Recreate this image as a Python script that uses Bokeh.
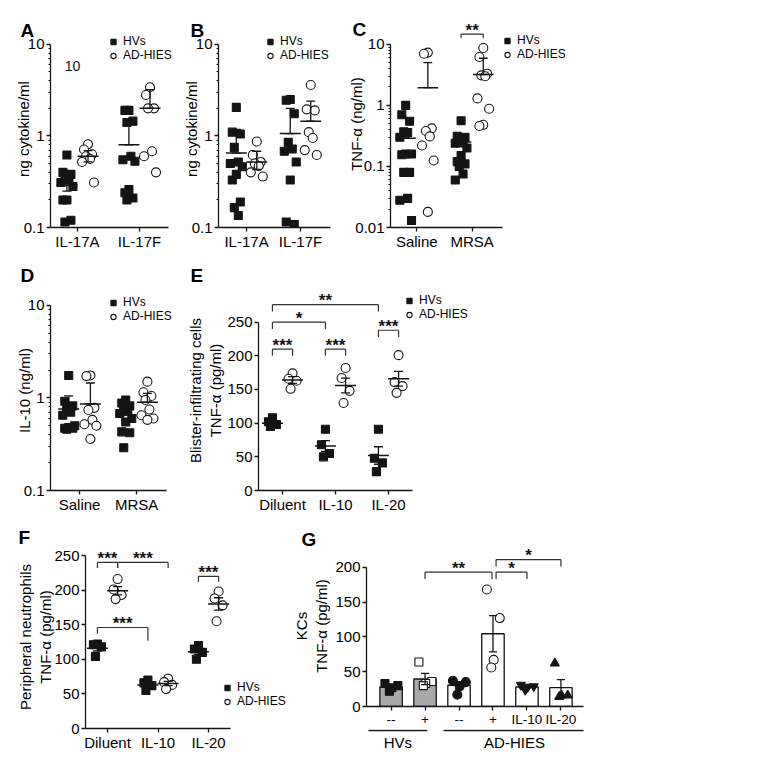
from bokeh.plotting import figure
from bokeh.layouts import column, row
from bokeh.models import Range1d, FixedTicker, Legend, LegendItem, Title
from bokeh.core.properties import value
from bokeh.embed import file_html
from bokeh.resources import INLINE

FONT = "Liberation Sans"
INK = "#141414"
SERIES = ["HVs", "AD-HIES"]

# ---------------- data ----------------
# A: IL-17 production, ng cytokine/ml
A_cats = ["IL-17A", "IL-17F"]
A_hv = [[0.62, 0.40, 0.38, 0.36, 0.33, 0.31, 0.28, 0.20, 0.20, 0.12, 0.115],
        [1.9, 1.9, 1.45, 1.4, 0.6, 0.55, 0.53, 0.26, 0.24, 0.21, 0.2]]
A_ad = [[0.81, 0.71, 0.63, 0.60, 0.56, 0.52, 0.31],
        [3.4, 2.8, 2.0, 2.0, 0.68, 0.6, 0.4]]
A_hv_mean = [0.29, 0.80]
A_hv_hi = [0.34, 1.5]
A_hv_lo = [0.25, 0.80]
A_ad_mean = [0.60, 2.0]
A_ad_hi = [0.69, 3.2]
A_ad_lo = [0.52, 2.0]
A_note = "10"

# B: IL-17 production, ng cytokine/ml
B_cats = ["IL-17A", "IL-17F"]
B_hv = [[2.05, 1.1, 1.05, 0.75, 0.52, 0.5, 0.46, 0.38, 0.33, 0.19, 0.165, 0.135],
        [2.5, 2.45, 1.75, 0.85, 0.72, 0.68, 0.52, 0.33, 0.115, 0.108]]
B_ad = [[0.87, 0.62, 0.52, 0.5, 0.47, 0.4, 0.36],
        [3.6, 1.95, 1.9, 1.1, 0.95, 0.7, 0.62]]
B_hv_mean = [0.65, 1.06]
B_hv_hi = [1.18, 2.0]
B_hv_lo = [0.65, 1.06]
B_ad_mean = [0.52, 1.45]
B_ad_hi = [0.68, 2.4]
B_ad_lo = [0.43, 1.45]

# C: TNF-alpha, ng/ml
C_cats = ["Saline", "MRSA"]
C_hv = [[1.0, 0.7, 0.55, 0.37, 0.36, 0.3, 0.16, 0.16, 0.155, 0.08, 0.08, 0.03, 0.028, 0.013],
        [0.56, 0.31, 0.3, 0.28, 0.26, 0.24, 0.2, 0.15, 0.12, 0.11, 0.1, 0.075, 0.06]]
C_ad = [[7.3, 7.0, 0.42, 0.38, 0.31, 0.22, 0.125, 0.018],
        [8.7, 6.2, 3.3, 3.1, 3.0, 1.3, 0.88, 0.48, 0.46]]
C_hv_mean = [0.29, 0.25]
C_hv_hi = [0.29, 0.30]
C_hv_lo = [0.29, 0.21]
C_ad_mean = [1.95, 3.2]
C_ad_hi = [5.0, 5.9]
C_ad_lo = [1.95, 3.2]
C_sig_label = ["**"]
C_sig_level = [14.7]
C_sig_tick_end = [12.5]

# D: IL-10, ng/ml
D_cats = ["Saline", "MRSA"]
D_hv = [[1.75, 0.92, 0.82, 0.75, 0.7, 0.65, 0.5, 0.48, 0.47, 0.47, 0.46],
        [0.95, 0.88, 0.82, 0.78, 0.72, 0.68, 0.6, 0.55, 0.43, 0.42, 0.29]]
D_ad = [[1.75, 1.72, 0.78, 0.74, 0.58, 0.52, 0.5, 0.36],
        [1.5, 1.15, 1.05, 0.95, 0.75, 0.65, 0.6, 0.58]]
D_hv_mean = [0.76, 0.66]
D_hv_hi = [1.05, 0.85]
D_hv_lo = [0.76, 0.66]
D_ad_mean = [0.86, 0.90]
D_ad_hi = [1.45, 1.12]
D_ad_lo = [0.86, 0.90]

# E: blister-infiltrating cells TNF-alpha, pg/ml
E_cats = ["Diluent", "IL-10", "IL-20"]
E_hv = [[108, 102, 98, 95], [91, 68, 55, 50], [91, 48, 41, 28]]
E_ad = [[174, 166, 163, 151], [182, 167, 148, 130], [201, 161, 155, 145]]
E_hv_mean = [100, 66, 52]
E_hv_err = [3, 8, 13]
E_ad_mean = [164, 156, 166]
E_ad_err = [5, 11, 11]
E_sig_label = ["***", "***", "***", "*", "**"]
E_sig_from = [(1, -1), (2, -1), (3, -1), (1, -1), (1, -1)]   # (category, -1 = HVs / +1 = AD-HIES)
E_sig_to = [(1, 1), (2, 1), (3, 1), (2, -1), (3, -1)]
E_sig_level = [210, 210, 238, 250, 276]

# F: peripheral neutrophils TNF-alpha, pg/ml
F_cats = ["Diluent", "IL-10", "IL-20"]
F_hv = [[122, 121, 118, 104], [70, 66, 62, 55], [120, 115, 110, 100]]
F_ad = [[216, 201, 193, 187], [72, 67, 63, 57], [198, 188, 178, 155]]
F_hv_mean = [116, 63, 111]
F_hv_err = [4, 3, 4]
F_ad_mean = [199, 65, 180]
F_ad_err = [6, 3, 9]
F_sig_label = ["***", "***", "***", "***"]
F_sig_from = [(1, -1), (1, 1), (3, -1), (1, -1)]
F_sig_to = [(1, 1), (2, 1), (3, 1), (2, -1)]
F_sig_level = [240, 240, 220, 146]
F_sig_drop = [(8, 8), (8, 8), (8, 8), (9, 19)]

# G: KCs TNF-alpha, pg/ml
G_labels = ["--", "+", "--", "+", "IL-10", "IL-20"]
G_groups = ["HVs", "AD-HIES"]
G_mean = [28, 39.5, 30.5, 104.5, 28, 27]
G_err = [2.5, 8, 5, 26, 1.5, 11.5]
G_points = [[33, 30, 27, 22], [64, 36, 33, 30], [37, 35, 29, 17],
            [168, 127, 67, 56], [31, 29, 28, 24], [62, 16, 16, 14]]
G_sig_label = ["**", "*", "*"]
G_sig_from = [2, 4, 4]
G_sig_to = [4, 5, 6]
G_sig_level = [193, 193, 211]

LOG2_TICKS = [0.1, 1, 10]
LOG2_LABELS = ["0.1", "1", "10"]
LOG3_TICKS = [0.01, 0.1, 1, 10]
LOG3_LABELS = ["0.01", "0.1", "1", "10"]
TNF_TICKS = [0, 50, 100, 150, 200, 250]
KC_TICKS = [0, 50, 100, 150, 200]


# ---------------- helpers ----------------
def make_fig(box, frame, xr, yr, log=False, axes=True):
    wl, wt, wr, wb = box
    L, T, R, B = frame
    kw = {}
    if not axes:
        kw = dict(x_axis_location=None, y_axis_location=None)
    p = figure(width=wr - wl, height=wb - wt, title=None,
               x_range=xr if not isinstance(xr, tuple) else Range1d(*xr),
               y_range=Range1d(*yr),
               y_axis_type="log" if log else "linear",
               output_backend="svg", toolbar_location=None,
               min_border_left=L - wl, min_border_right=wr - R,
               min_border_top=T - wt, min_border_bottom=wb - B,
               frame_align=False, **kw)
    p.outline_line_color = None
    p.grid.visible = False
    p.background_fill_color = "white"
    p.border_fill_color = "white"
    return p


def style_axes(p, xticks, xlabels, yticks, ylabels, ylabel, standoff,
               log=False, xbounds=None, ybounds=None, xsize="15px"):
    xa = p.xaxis[0]
    ya = p.yaxis[0]
    xa.ticker = FixedTicker(ticks=xticks)
    xa.major_label_overrides = dict(zip(xticks, xlabels))
    minor = []
    if log:
        lo, hi = min(yticks), max(yticks)
        e = lo
        while e < hi * 0.999:
            minor += [m * e for m in range(2, 10)]
            e *= 10
    ya.ticker = FixedTicker(ticks=yticks, minor_ticks=minor)
    if ylabels is not None:
        ya.major_label_overrides = dict(zip(yticks, ylabels))
    ya.axis_label = ylabel
    ya.axis_label_standoff = standoff
    if xbounds is not None:
        xa.bounds = xbounds
    if ybounds is not None:
        ya.bounds = ybounds
    for ax in (xa, ya):
        ax.axis_line_width = 1.3
        ax.axis_line_color = INK
        ax.major_tick_line_width = 1.3
        ax.major_tick_line_color = INK
        ax.minor_tick_line_color = INK
        ax.minor_tick_line_width = 1
        ax.major_tick_in = 0
        ax.major_tick_out = 4
        ax.minor_tick_in = 0
        ax.minor_tick_out = 2
        ax.major_label_text_font = FONT
        ax.major_label_text_font_size = "15px"
        ax.major_label_text_color = "black"
        ax.major_label_standoff = 2
        ax.axis_label_text_font = FONT
        ax.axis_label_text_font_size = "15px"
        ax.axis_label_text_font_style = "normal"
        ax.axis_label_text_color = "black"
    xa.major_label_standoff = 1
    xa.major_label_text_font_size = xsize


def dots(p, hv, ad, hv_stats, ad_stats, off, upx):
    s = 4.0 / upx
    mw = 10.5 / upx
    cw = 4.5 / upx
    pattern = [0.0, -1.0, 1.0, -0.5, 0.5, -1.5, 1.5]
    rends = []
    for vals_list, stats, marker, size, fill, sgn in (
            (hv, hv_stats, "square", 8, INK, -1),
            (ad, ad_stats, "circle", 9, "white", 1)):
        xs, ys = [], []
        for ci, vals in enumerate(vals_list):
            cx = ci + 1 + sgn * off
            for i, v in enumerate(vals):
                xs.append(cx + pattern[i % len(pattern)] * s)
                ys.append(v)
        r = p.scatter(xs, ys, marker=marker, size=size, fill_color=fill,
                      line_color=INK, line_width=1.1)
        rends.append(r)
        mean, hi, lo = stats
        cxs = [ci + 1 + sgn * off for ci in range(len(mean))]
        p.segment([c - mw for c in cxs], mean, [c + mw for c in cxs], mean,
                  line_color=INK, line_width=1.5)
        p.segment(cxs, lo, cxs, hi, line_color=INK, line_width=1.3)
        p.segment([c - cw for c in cxs], hi, [c + cw for c in cxs], hi,
                  line_color=INK, line_width=1.3)
        p.segment([c - cw for c in cxs], lo, [c + cw for c in cxs], lo,
                  line_color=INK, line_width=1.3)
    return rends


def legend(p, rends, loc):
    lg = Legend(items=[LegendItem(label=SERIES[0], renderers=[rends[0]]),
                       LegendItem(label=SERIES[1], renderers=[rends[1]])],
                location=loc, orientation="vertical", margin=0, padding=0,
                spacing=0, glyph_width=14, glyph_height=13, label_height=13,
                label_standoff=3, label_text_font=FONT,
                label_text_font_size="12px", label_text_color="black",
                background_fill_alpha=0, border_line_color=None)
    p.add_layout(lg)


def brackets(p, x0s, x1s, levels, ends0, ends1, labels):
    sx0, sy0, sx1, sy1 = [], [], [], []
    for x0, x1, y, e0, e1 in zip(x0s, x1s, levels, ends0, ends1):
        sx0 += [x0, x0, x1]
        sy0 += [y, y, y]
        sx1 += [x1, x0, x1]
        sy1 += [y, e0, e1]
    p.segment(sx0, sy0, sx1, sy1, line_color="#333333", line_width=1.2)
    p.text([(a + b) / 2 for a, b in zip(x0s, x1s)], levels, text=labels,
           text_font=value(FONT), text_font_size=value("17px"),
           text_font_style="bold",
           text_align="center", text_baseline="middle", y_offset=-4,
           text_color=INK)


def letter(p, txt, offset, standoff):
    p.title = Title(text=txt, align="left", offset=offset, standoff=standoff,
                    text_font=FONT, text_font_size="19px", text_font_style="bold",
                    text_color="black")


# ---------------- panel A ----------------
pA = make_fig((0, 0, 175, 252), (50, 30, 174, 229), (0.565, 2.565), (0.1, 14.17), log=True)
style_axes(pA, [1, 2], A_cats, LOG2_TICKS, LOG2_LABELS, "ng cytokine/ml", -11, log=True,
           xbounds=(0.565, 2.468), ybounds=(0.1, 10))
rA = dots(pA, A_hv, A_ad, (A_hv_mean, A_hv_hi, A_hv_lo), (A_ad_mean, A_ad_hi, A_ad_lo), 0.17, 62)
legend(pA, rA, (56, 165))
pA.text([0.92], [5.8], text=[A_note], text_font=value(FONT), text_font_size=value("14px"),
        text_align="center", text_baseline="middle", text_color=INK)
letter(pA, "A", -30, -20)

# ---------------- panel B ----------------
pB = make_fig((175, 0, 345, 252), (218, 30, 330, 229), (0.48, 2.556), (0.1, 14.17), log=True)
style_axes(pB, [1, 2], B_cats, LOG2_TICKS, LOG2_LABELS, "ng cytokine/ml", -11, log=True,
           ybounds=(0.1, 10))
rB = dots(pB, B_hv, B_ad, (B_hv_mean, B_hv_hi, B_hv_lo), (B_ad_mean, B_ad_hi, B_ad_lo), 0.19, 54)
legend(pB, rB, (45, 165))
letter(pB, "B", -28, -20)

# ---------------- panel C ----------------
pC = make_fig((345, 0, 766, 252), (385, 20, 565, 229), (0.526, 3.684), (0.01, 24.5), log=True)
style_axes(pC, [1, 2], C_cats, LOG3_TICKS, LOG3_LABELS, "TNF-\u03b1 (ng/ml)", -13, log=True,
           xbounds=(0.526, 2.54), ybounds=(0.01, 10))
rC = dots(pC, C_hv, C_ad, (C_hv_mean, C_hv_hi, C_hv_lo), (C_ad_mean, C_ad_hi, C_ad_lo), 0.2, 57)
legend(pC, rC, (110, 166))
brackets(pC, [2 - 0.2], [2 + 0.2], C_sig_level, C_sig_tick_end, C_sig_tick_end, C_sig_label)
letter(pC, "C", -38, -38)

# ---------------- panel D ----------------
pD = make_fig((0, 252, 175, 515), (50, 290, 174, 492), (0.49, 2.665), (0.1, 14.47), log=True)
style_axes(pD, [1, 2], D_cats, LOG2_TICKS, LOG2_LABELS, "IL-10 (ng/ml)", -12, log=True,
           xbounds=(0.49, 2.53), ybounds=(0.1, 10))
rD = dots(pD, D_hv, D_ad, (D_hv_mean, D_hv_hi, D_hv_lo), (D_ad_mean, D_ad_hi, D_ad_lo), 0.19, 57)
legend(pD, rD, (56, 167))
letter(pD, "D", -30, 10)

# ---------------- panel E ----------------
E_off = 0.19
pE = make_fig((175, 252, 766, 515), (258, 290, 500, 492), (0.547, 5.113), (0, 297))
style_axes(pE, [1, 2, 3], E_cats, TNF_TICKS, None,
           "Blister-infiltrating cells\nTNF-\u03b1 (pg/ml)", 0,
           xbounds=(0.547, 3.453), ybounds=(0, 250))
rE = dots(pE, E_hv, E_ad,
          (E_hv_mean, [m + e for m, e in zip(E_hv_mean, E_hv_err)], [m - e for m, e in zip(E_hv_mean, E_hv_err)]),
          (E_ad_mean, [m + e for m, e in zip(E_ad_mean, E_ad_err)], [m - e for m, e in zip(E_ad_mean, E_ad_err)]),
          E_off, 53)
legend(pE, rE, (144, 169))
bx0 = [c + s * E_off for c, s in E_sig_from]
bx1 = [c + s * E_off for c, s in E_sig_to]
brackets(pE, bx0, bx1, E_sig_level, [y - 10 for y in E_sig_level], [y - 10 for y in E_sig_level], E_sig_label)
letter(pE, "E", -68, 10)

# ---------------- panel F ----------------
F_off = 0.2
pF = make_fig((0, 515, 290, 762), (85, 545, 288, 728), (0.564, 4.584), (0, 264.5))
style_axes(pF, [1, 2, 3], F_cats, TNF_TICKS, None,
           "Peripheral neutrophils\nTNF-\u03b1 (pg/ml)", -3,
           xbounds=(0.564, 3.436), ybounds=(0, 250))
rF = dots(pF, F_hv, F_ad,
          (F_hv_mean, [m + e for m, e in zip(F_hv_mean, F_hv_err)], [m - e for m, e in zip(F_hv_mean, F_hv_err)]),
          (F_ad_mean, [m + e for m, e in zip(F_ad_mean, F_ad_err)], [m - e for m, e in zip(F_ad_mean, F_ad_err)]),
          F_off, 50.5)
legend(pF, rF, (135, 20))
fx0 = [c + s * F_off for c, s in F_sig_from]
fx1 = [c + s * F_off for c, s in F_sig_to]
brackets(pF, fx0, fx1, F_sig_level,
         [y - d[0] for y, d in zip(F_sig_level, F_sig_drop)],
         [y - d[1] for y, d in zip(F_sig_level, F_sig_drop)], F_sig_label)
letter(pF, "F", -67, -4)

# ---------------- panel G ----------------
pG = make_fig((290, 515, 600, 729), (362, 545, 583, 708), (0.277, 6.664), (0, 231.2))
G_x = list(range(1, len(G_labels) + 1))
style_axes(pG, G_x, G_labels, KC_TICKS, None, "KCs\nTNF-\u03b1 (pg/ml)", 2, ybounds=(0, 200),
           xsize="13.5px")
pG.xaxis[0].major_label_standoff = 1
G_bar_fill = ["#a9a9a9", "#a9a9a9", "white", "white", "white", "white"]
G_marker = ["square", "square", "circle", "circle", "inverted_triangle", "triangle"]
G_marker_fill = [INK, "white", INK, "white", INK, INK]
G_spread = [-0.18, 0.2, 0.02, -0.05]
pG.vbar(x=G_x, top=G_mean, width=0.66, fill_color=G_bar_fill, line_color=INK, line_width=1.3)
for i, vals in enumerate(G_points):
    xs = [G_x[i] + G_spread[j % len(G_spread)] for j in range(len(vals))]
    pG.scatter(xs, vals, marker=G_marker[i], size=8 if G_marker[i] == "square" else 9,
               fill_color=G_marker_fill[i], line_color=INK, line_width=1.1)
cw = 0.12
G_hi = [m + e for m, e in zip(G_mean, G_err)]
G_lo = [m - e for m, e in zip(G_mean, G_err)]
pG.segment(G_x, G_lo, G_x, G_hi, line_color=INK, line_width=1.3)
pG.segment([x - cw for x in G_x], G_hi, [x + cw for x in G_x], G_hi, line_color=INK, line_width=1.3)
pG.segment([x - cw for x in G_x], G_lo, [x + cw for x in G_x], G_lo, line_color=INK, line_width=1.3)
gx0 = [a + (0.09 if a == 4 else 0.0) for a in G_sig_from]
gx1 = [b - (0.03 if b == 4 else 0.0) for b in G_sig_to]
brackets(pG, gx0, gx1, G_sig_level, [y - 10 for y in G_sig_level], [y - 10 for y in G_sig_level], G_sig_label)
letter(pG, "G", -65, -8)

# group strip under panel G (shares G's x scale)
pGs = make_fig((290, 729, 600, 762), (362, 729, 583, 762), pG.x_range, (0, 33), axes=False)
G_line_x0 = [0.45, 2.62]
G_line_x1 = [2.15, 6.72]
pGs.segment(G_line_x0, [32, 32], G_line_x1, [32, 32], line_color=INK, line_width=1.3)
pGs.text([(a + b) / 2 for a, b in zip(G_line_x0, G_line_x1)], [29, 29], text=G_groups,
         text_font=value(FONT), text_font_size=value("15px"), text_align="center",
         text_baseline="top", text_color="black")

layout = column(row(pA, pB, pC), row(pD, pE), row(pF, column(pG, pGs)))
open("out.html", "w").write(file_html(layout, INLINE))
